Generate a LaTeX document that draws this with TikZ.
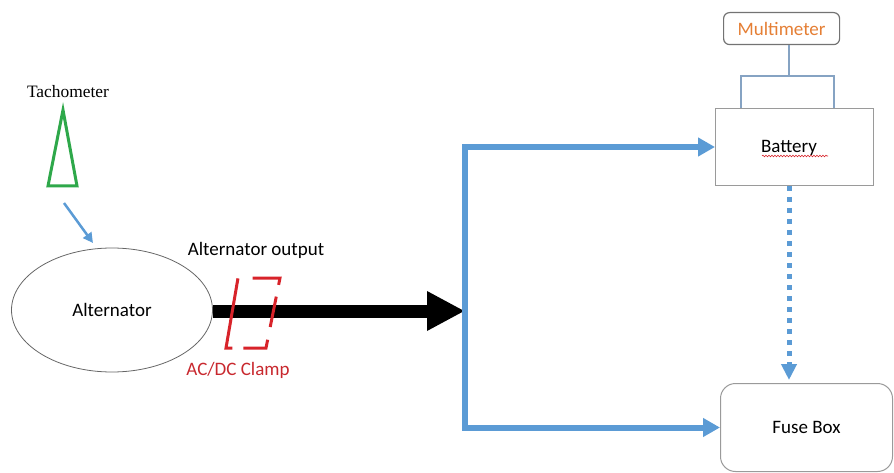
\documentclass[tikz,border=0pt]{standalone}
\usepackage{fontspec}
\setmainfont{Carlito}
\newfontfamily\tachfont{Liberation Serif}
\usetikzlibrary{arrows.meta,shapes.geometric,decorations.pathmorphing,calc}
\definecolor{wireblue}{HTML}{5B9BD5}
\definecolor{clampred}{HTML}{D8232A}
\definecolor{labelred}{HTML}{C8282E}
\definecolor{mmorange}{HTML}{E57F35}
\definecolor{boxgray}{HTML}{9A9A9A}
\definecolor{mmwire}{HTML}{86A3C3}
\definecolor{tachgreen}{HTML}{2EA84A}
\tikzset{
  lbl/.style={font=\fontsize{19}{22}\selectfont, inner sep=0pt},
  boxnode/.style={draw=boxgray, line width=1pt, fill=white, font=\fontsize{19}{22}\selectfont, inner sep=0pt},
  bluewire/.style={draw=wireblue, line width=6pt, -{Triangle[length=17pt,width=18pt]}},
  dotwire/.style={draw=wireblue, line width=5pt, dash pattern=on 5pt off 6pt, -{Triangle[length=16pt,width=15pt]}},
  bigarrow/.style={draw=black, line width=13pt, -{Triangle[length=38pt,width=37pt]}},
  clamp/.style={draw=clampred, line width=3pt, dash pattern=on 34pt off 12pt on 31pt off 13pt on 31pt off 11pt on 77pt off 15pt},
  tacharrow/.style={draw=wireblue, line width=2.5pt, -{Triangle[length=10pt,width=10pt]}}
}
\begin{document}
\begin{tikzpicture}[x=1pt,y=-1pt]
\useasboundingbox (0,0) rectangle (894,473);
% tachometer
\node[lbl, font=\tachfont\fontsize{17.4}{20}\selectfont] (tachlbl) at (68,92) {Tachometer};
\draw[draw=tachgreen, line width=3pt, line join=miter] (63,110) -- (77,186) -- (48,186) -- cycle;
\coordinate (tachend) at (64,203);
% alternator
\node[draw=black!60, line width=0.8pt, ellipse, minimum width=201pt, minimum height=124pt, inner sep=0pt, font=\fontsize{19}{22}\selectfont] (alt) at (112,310) {Alternator};
\draw[tacharrow] (tachend) -- (93,243);
\node[lbl] (altout) at (256,250) {Alternator output};
\coordinate (junction) at (465,311);
\draw[bigarrow] (alt.east |- junction) -- (junction);
% clamp
\draw[clamp] (253,278) -- (280,278) -- (266,348) -- (226,348) -- (238,278) -- cycle;
\node[lbl, text=labelred] (clamplbl) at (238,370) {AC/DC Clamp};
% boxes
\node[boxnode, minimum width=158pt, minimum height=77pt, anchor=north west] (bat) at (715,108) {};
\node[lbl] (battxt) at (789,148) {Battery};
\draw[draw=clampred, line width=0.6pt, decorate, decoration={snake, amplitude=0.8pt, segment length=3pt}] (762,156) -- (828,156);
\node[boxnode, rounded corners=15pt, minimum width=172pt, minimum height=88pt, anchor=north west] (fuse) at (720,383) {Fuse Box};
\node[draw=black!55, line width=1.2pt, fill=white, rounded corners=6pt, minimum width=116pt, minimum height=32pt, anchor=north west, inner sep=0pt, font=\fontsize{19}{22}\selectfont, text=mmorange] (mm) at (723,12) {Multimeter};
% multimeter leads
\coordinate (mmj) at (789,76);
\draw[draw=mmwire, line width=1.2pt] (mm.south -| mmj) -- (mmj);
\draw[draw=mmwire, line width=1.2pt] ($(bat.north west)+(26,0)$) |- (mmj) -| ($(bat.north east)+(-40,0)$);
% blue wiring
\draw[bluewire] (junction) |- (bat.west);
\draw[bluewire] (junction) |- (fuse.west);
\draw[dotwire, shorten >=3pt] (bat.south -| mmj) -- (fuse.north -| mmj);
\end{tikzpicture}
\end{document}
